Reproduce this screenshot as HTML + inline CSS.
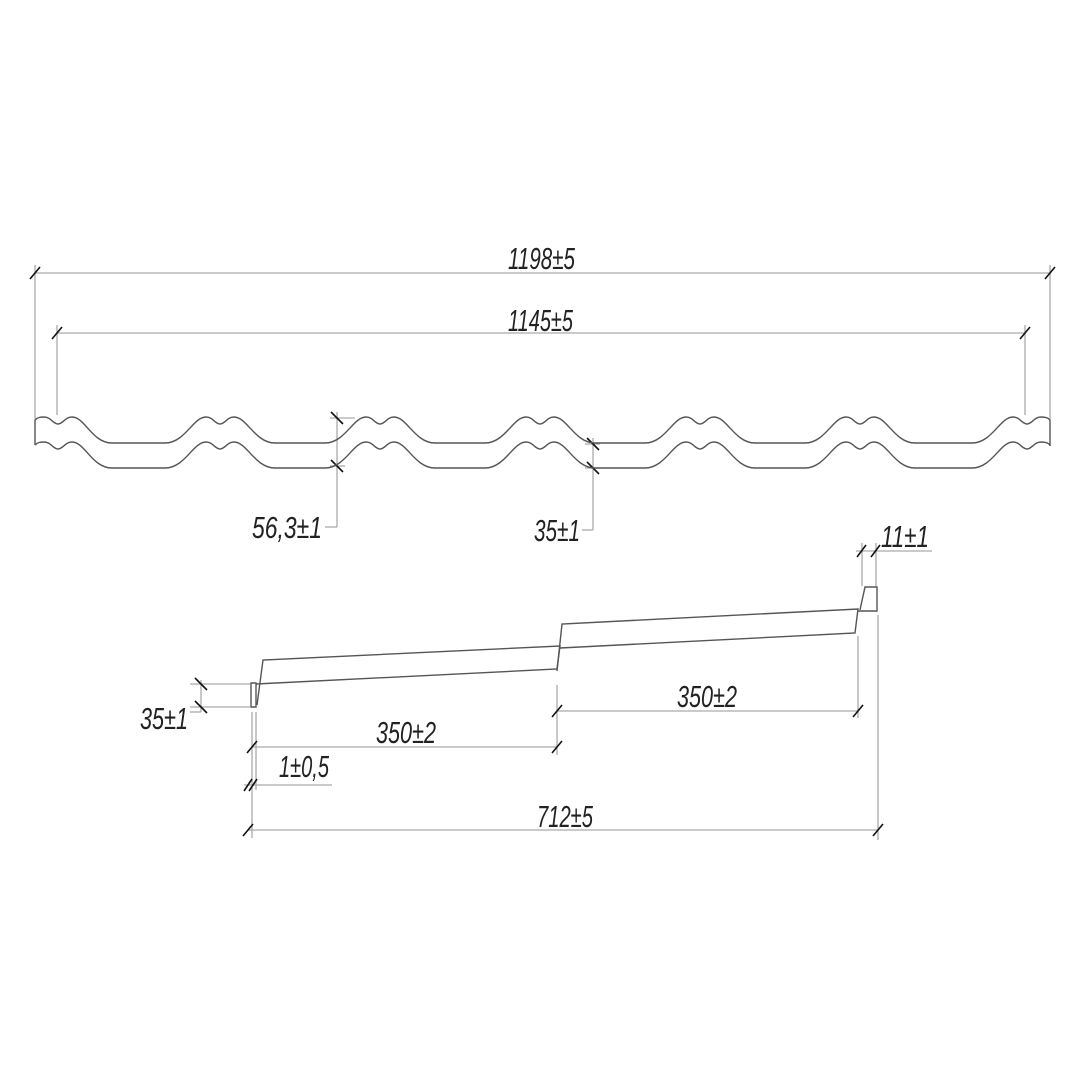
<!DOCTYPE html>
<html><head><meta charset="utf-8"><style>
html,body{margin:0;padding:0;background:#fff;}
svg{display:block;}
text{font-family:"Liberation Sans",sans-serif;font-style:italic;font-size:31px;fill:#222;}
</style></head><body>
<svg width="1080" height="1080" viewBox="0 0 1080 1080" xmlns="http://www.w3.org/2000/svg">
<g stroke="#aaa" stroke-width="1.3" fill="none">
  <line x1="35" y1="265" x2="35" y2="420"/>
  <line x1="1050" y1="265" x2="1050" y2="420"/>
  <line x1="35" y1="273" x2="1050" y2="273"/>
  <line x1="57" y1="325" x2="57" y2="415"/>
  <line x1="1025" y1="325" x2="1025" y2="415"/>
  <line x1="57" y1="333" x2="1025" y2="333"/>
  <line x1="330" y1="418" x2="355" y2="418"/>
  <line x1="330" y1="466" x2="345" y2="466"/>
  <line x1="337" y1="412" x2="337" y2="527"/>
  <line x1="325" y1="527" x2="337" y2="527"/>
  <line x1="585" y1="444" x2="600" y2="444"/>
  <line x1="585" y1="468" x2="600" y2="468"/>
  <line x1="593" y1="438" x2="593" y2="530"/>
  <line x1="582" y1="530" x2="593" y2="530"/>
  <line x1="190" y1="684" x2="250" y2="684"/>
  <line x1="190" y1="707" x2="250" y2="707"/>
  <line x1="201" y1="680" x2="201" y2="712"/>
  <line x1="190" y1="712" x2="201" y2="712"/>
  <line x1="252" y1="712" x2="252" y2="838"/>
  <line x1="256" y1="712" x2="256" y2="790"/>
  <line x1="557" y1="685" x2="557" y2="755"/>
  <line x1="252" y1="747" x2="557" y2="747"/>
  <line x1="244" y1="785" x2="332" y2="785"/>
  <line x1="248" y1="830" x2="878" y2="830"/>
  <line x1="878" y1="615" x2="878" y2="840"/>
  <line x1="858" y1="636" x2="858" y2="718"/>
  <line x1="557" y1="711" x2="858" y2="711"/>
  <line x1="862" y1="543" x2="862" y2="586"/>
  <line x1="876" y1="543" x2="876" y2="586"/>
  <line x1="856" y1="551" x2="932" y2="551"/>
</g>
<g stroke="#111" stroke-width="1.6">
  <line x1="30" y1="279" x2="40" y2="267"/>
  <line x1="1045" y1="279" x2="1055" y2="267"/>
  <line x1="52" y1="339" x2="62" y2="327"/>
  <line x1="1020" y1="339" x2="1030" y2="327"/>
  <line x1="331" y1="412" x2="343" y2="424"/>
  <line x1="331" y1="460" x2="343" y2="472"/>
  <line x1="587" y1="438" x2="599" y2="450"/>
  <line x1="587" y1="462" x2="599" y2="474"/>
  <line x1="195" y1="678" x2="207" y2="690"/>
  <line x1="195" y1="701" x2="207" y2="713"/>
  <line x1="247" y1="753" x2="257" y2="741"/>
  <line x1="552" y1="753" x2="562" y2="741"/>
  <line x1="552" y1="717" x2="562" y2="705"/>
  <line x1="853" y1="717" x2="863" y2="705"/>
  <line x1="244" y1="791" x2="252" y2="779"/>
  <line x1="249" y1="791" x2="257" y2="779"/>
  <line x1="243" y1="836" x2="253" y2="824"/>
  <line x1="873" y1="836" x2="883" y2="824"/>
  <line x1="857" y1="557" x2="866" y2="545"/>
  <line x1="871" y1="557" x2="880" y2="545"/>
</g>
<g stroke="#555" stroke-width="1.4" fill="none">
  <path id="prof" d="M35,420 C38,417 41,417 44,417 C51,417 53,424 58,424 C63,424 65,417 72,417 C85,417 92,443 112,443
  L165,443 C185,443 193,417 206,417 C213,417 215,424 220,424 C225,424 227,417 234,417 C247,417 255,443 275,443
  L325,443 C345,443 353,417 366,417 C373,417 375,424 380,424 C385,424 387,417 394,417 C407,417 415,443 435,443
  L485,443 C505,443 513,417 526,417 C533,417 535,424 540,424 C545,424 547,417 554,417 C567,417 575,443 595,443
  L645,443 C665,443 673,417 686,417 C693,417 695,424 700,424 C705,424 707,417 714,417 C727,417 735,443 755,443
  L805,443 C825,443 833,417 846,417 C853,417 855,424 860,424 C865,424 867,417 874,417 C887,417 895,443 915,443
  L972,443 C992,443 1000,417 1013,417 C1020,417 1022,424 1027,424 C1032,424 1034,417 1041,417 C1047,417 1050,419 1050,421"/>
  <use href="#prof" transform="translate(0,25)"/>
  <line x1="35" y1="420" x2="35" y2="445"/>
  <line x1="1050" y1="421" x2="1050" y2="446"/>
  <path d="M251,683 L256,683 L256,707 L251,707 Z"/>
  <path d="M257,705 L263,660 L560,646 L557,669 L256,684"/>
  <path d="M557,671 L562,624 L858,609 L855,633 L560,648"/>
  <path d="M860,610 L865,587 L877,587 L877,611 L858,611"/>
</g>
<text x="508" y="269" textLength="67" lengthAdjust="spacingAndGlyphs">1198±5</text>
<text x="508" y="331" textLength="65" lengthAdjust="spacingAndGlyphs">1145±5</text>
<text x="252" y="538" textLength="70" lengthAdjust="spacingAndGlyphs">56,3±1</text>
<text x="534" y="541" textLength="46" lengthAdjust="spacingAndGlyphs">35±1</text>
<text x="881" y="547" textLength="48" lengthAdjust="spacingAndGlyphs">11±1</text>
<text x="140" y="729" textLength="48" lengthAdjust="spacingAndGlyphs">35±1</text>
<text x="376" y="743" textLength="60" lengthAdjust="spacingAndGlyphs">350±2</text>
<text x="279" y="777" textLength="50" lengthAdjust="spacingAndGlyphs">1±0,5</text>
<text x="677" y="707" textLength="60" lengthAdjust="spacingAndGlyphs">350±2</text>
<text x="537" y="827" textLength="56" lengthAdjust="spacingAndGlyphs">712±5</text>
</svg>
</body></html>
